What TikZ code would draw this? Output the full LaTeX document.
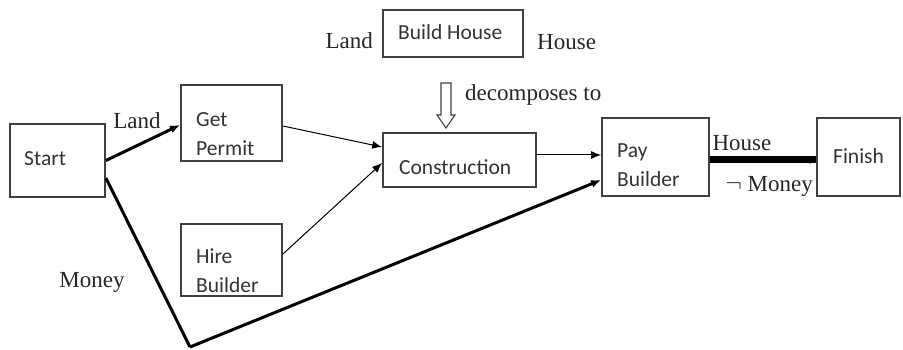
\documentclass[tikz,border=0pt]{standalone}
\usepackage{fontspec}
\setmainfont{Liberation Serif}
\newfontfamily\boxfont{Carlito}
\usetikzlibrary{arrows.meta}
\begin{document}
\begin{tikzpicture}[x=1pt,y=-1pt,
  box/.style={draw=black!75, line width=1.8pt, inner sep=0pt, fill=white},
  boxtext/.style={font=\boxfont\fontsize{21.5}{29}\selectfont, align=left, anchor=west, inner sep=0pt, text=black!80},
  lbl/.style={font=\fontsize{23}{26}\selectfont, inner sep=0pt, text=black!85},
  flow/.style={-{Latex[length=10pt,width=8pt]}, line width=1pt},
  heavy/.style={-{Latex[length=10pt,width=8pt]}, line width=3pt},
]
\useasboundingbox (0,0) rectangle (903,350);

% boxes
\node[box, minimum width=95pt, minimum height=73pt] (start) at (57.5,160.5) {};
\node[box, minimum width=101pt, minimum height=76pt] (permit) at (231.5,123) {};
\node[box, minimum width=101pt, minimum height=72pt] (hire) at (231.5,260) {};
\node[box, minimum width=140pt, minimum height=47pt] (build) at (453,33.5) {};
\node[box, minimum width=153pt, minimum height=54pt] (constr) at (459.5,160) {};
\node[box, minimum width=107pt, minimum height=78pt] (pay) at (655.5,157) {};
\node[box, minimum width=83pt, minimum height=78pt] (finish) at (858.5,157) {};

% box captions
\node[boxtext] (tstart) at (24,159) {Start};
\node[boxtext] (tpermit) at (196,134) {Get\\Permit};
\node[boxtext] (thire) at (196,271) {Hire\\Builder};
\node[boxtext] (tbuild) at (398,32) {Build House};
\node[boxtext] (tconstr) at (399,167) {Construction};
\node[boxtext] (tpay) at (617,165) {Pay\\Builder};
\node[boxtext] (tfinish) at (833,156) {Finish};

% free labels
\node[lbl, anchor=east] (lland) at (373,41) {Land};
\node[lbl, anchor=west] (lhouse) at (537,42) {House};
\node[lbl, anchor=west] (ldec) at (465,95) {decomposes to};
\node[lbl] (land) at (137,121) {Land};
\node[lbl] (money) at (92,282) {Money};
\node[lbl] (house) at (742,143) {House};
\node[lbl] (nmoney) at (769,186) {$\neg$ Money};

% hollow "decomposes to" arrow
\draw[line width=1.1pt, black!75, fill=white] (441,83) -- (451,83) -- (451,115) -- (455,115)
  -- (446,128) -- (437,115) -- (441,115) -- cycle;

% connectors
\coordinate (bend) at (190,347);
\draw[heavy] (start.east) -- ([yshift=-2pt]permit.west);
\draw[line width=3pt, line join=round] ([yshift=-17.5pt]start.east) -- (bend);
\draw[heavy] (bend) -- ([yshift=-23pt]pay.west);
\draw[flow] ([yshift=-3pt]permit.east) -- ([yshift=13pt]constr.west);
\draw[flow] ([yshift=6pt]hire.east) -- ([yshift=-3pt]constr.west);
\draw[flow] ([yshift=5pt]constr.east) -- ([yshift=2pt]pay.west);
\draw[line width=7pt] ([yshift=-3pt]pay.east) -- ([yshift=-3pt]finish.west);
\draw[-{Latex[length=7pt,width=6pt]}, line width=1pt] ([xshift=-14pt,yshift=-5pt]finish.west) -- ([yshift=-3pt]finish.west);
\end{tikzpicture}
\end{document}
